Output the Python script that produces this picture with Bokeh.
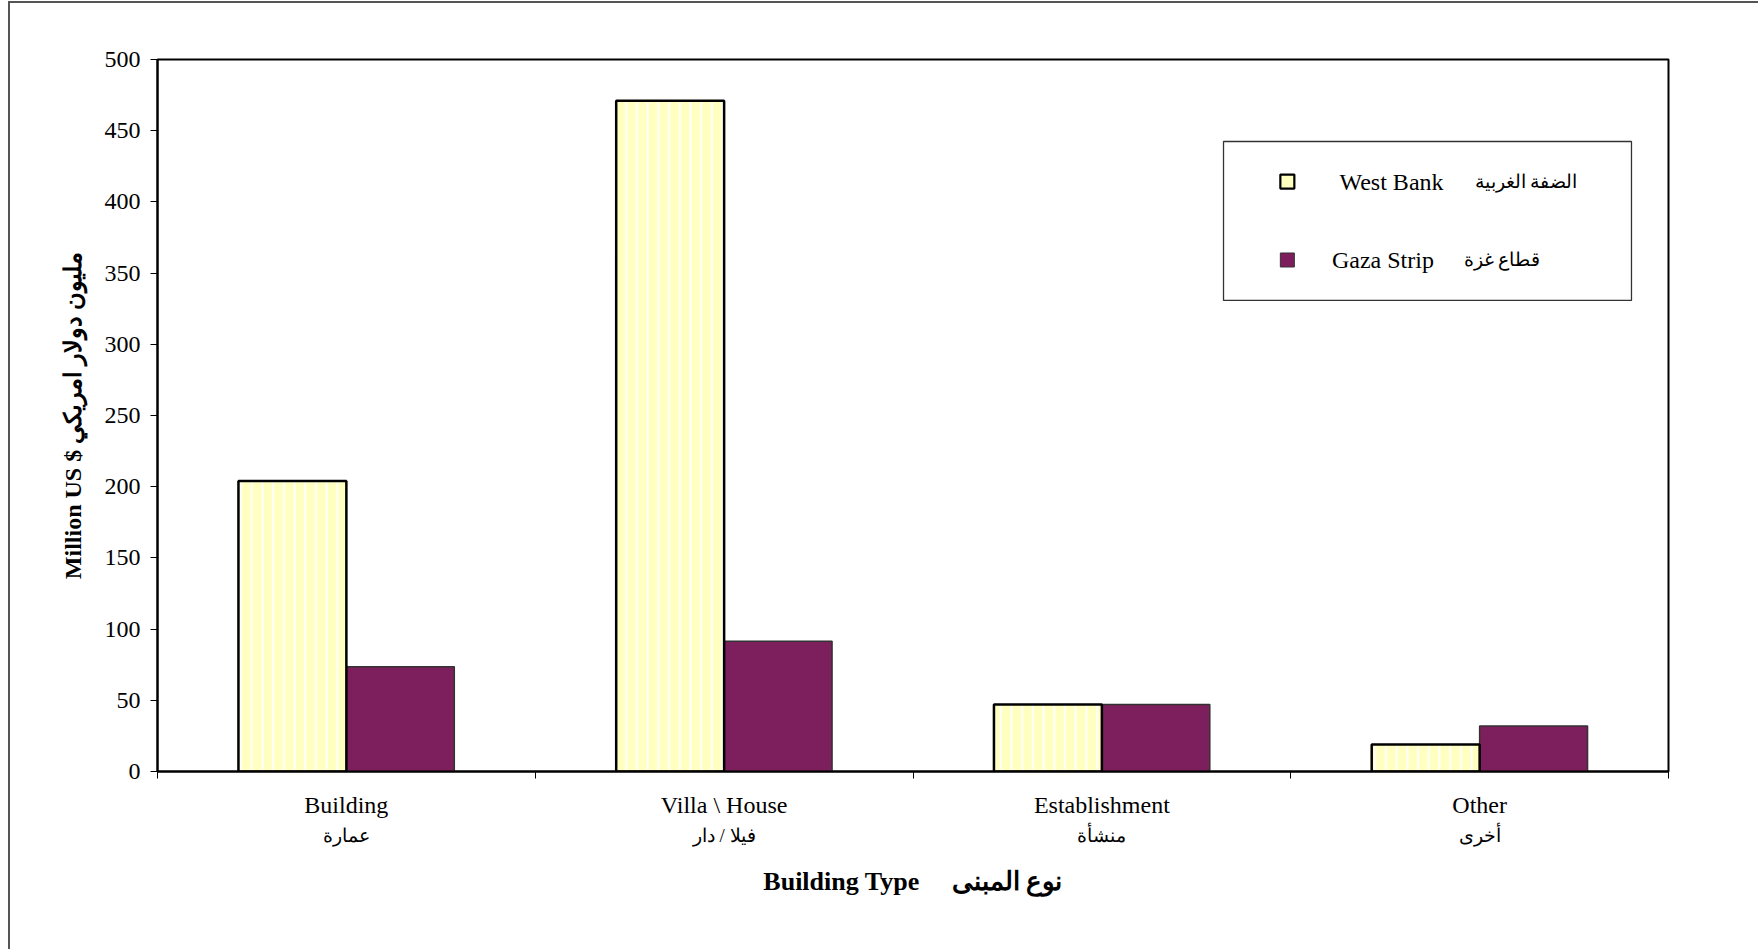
from bokeh.plotting import figure
from bokeh.models import Range1d, FixedTicker, ColumnDataSource, LinearAxis
from bokeh.core.properties import value
from bokeh.embed import file_html
from bokeh.resources import INLINE

# --- data -------------------------------------------------------------
categories_en = ["Building", "Villa \\ House", "Establishment", "Other"]
categories_ar = ["عمارة", "فيلا / دار", "منشأة", "أخرى"]
west_bank = [204, 471, 47, 19]
gaza_strip = [73.5, 91.5, 47, 32]
y_ticks = [0, 50, 100, 150, 200, 250, 300, 350, 400, 450, 500]

series_en = ["West Bank", "Gaza Strip"]
series_ar = ["الضفة الغربية", "قطاع غزة"]

# --- styling ----------------------------------------------------------
SERIF = "Liberation Serif"
WB_FILL = "#FFFFC0"
GZ_FILL = "#7E1F5D"
BAR_W = 1 / 3.5          # Excel-style 150% gap width
NB = "\u00a0"            # non-breaking space, keeps wide gaps in SVG text

n = len(categories_en)
centers = [i + 0.5 for i in range(n)]
bounds = [i for i in range(n + 1)]
wb_x = [c - BAR_W / 2 for c in centers]
gz_x = [c + BAR_W / 2 for c in centers]

p = figure(width=1750, height=948,
           x_range=Range1d(0, n), y_range=Range1d(0, 500),
           output_backend="svg", toolbar_location=None,
           min_border_left=147, min_border_right=92,
           min_border_top=56, min_border_bottom=180)
p.margin = (3, 0, 0, 10)
p.styles = {"box-shadow": "-2px -2px 0 0 #555"}

p.background_fill_color = "white"
p.border_fill_color = "white"
p.outline_line_color = "black"
p.outline_line_width = 2
p.xgrid.visible = False
p.ygrid.visible = False

# y axis
ya = p.yaxis[0]
ya.ticker = FixedTicker(ticks=y_ticks)
ya.minor_tick_line_color = None
ya.major_tick_in = 0
ya.major_tick_out = 7
ya.major_tick_line_color = "black"
ya.axis_line_color = "black"
ya.axis_line_width = 2
ya.major_label_text_font = SERIF
ya.major_label_text_font_size = "24px"
ya.major_label_text_color = "black"
ya.major_label_standoff = 10
ya.axis_label = "Million US $ مليون دولار امريكي"
ya.axis_label_text_font = SERIF
ya.axis_label_text_font_style = "bold"
ya.axis_label_text_font_size = "24px"
ya.axis_label_text_color = "black"
ya.axis_label_standoff = 16

# x axis, first row: English names at category centres,
# tick marks at category boundaries
xa = p.xaxis[0]
xa.ticker = FixedTicker(ticks=centers, minor_ticks=bounds)
xa.major_tick_line_color = None
xa.major_tick_in = 0
xa.major_tick_out = 0
xa.minor_tick_line_color = "black"
xa.minor_tick_in = 0
xa.minor_tick_out = 7
xa.axis_line_color = "black"
xa.axis_line_width = 2
xa.major_label_overrides = {c: en for c, en in zip(centers, categories_en)}
xa.major_label_text_font = SERIF
xa.major_label_text_font_size = "24px"
xa.major_label_text_color = "black"
xa.major_label_standoff = 13

# x axis, second row: Arabic names and the axis title
xa2 = LinearAxis(ticker=FixedTicker(ticks=centers, minor_ticks=[]))
xa2.axis_line_color = None
xa2.major_tick_line_color = None
xa2.minor_tick_line_color = None
xa2.major_tick_in = 0
xa2.major_tick_out = 0
xa2.major_label_overrides = {c: ar for c, ar in zip(centers, categories_ar)}
xa2.major_label_text_font = SERIF
xa2.major_label_text_font_size = "19px"
xa2.major_label_text_color = "black"
xa2.major_label_standoff = 4
xa2.axis_label = "Building Type" + NB * 5 + "نوع المبنى"
xa2.axis_label_text_font = SERIF
xa2.axis_label_text_font_style = "bold"
xa2.axis_label_text_font_size = "26px"
xa2.axis_label_text_color = "black"
xa2.axis_label_standoff = 18
p.add_layout(xa2, "below")

# bars
p.vbar(x=gz_x, top=gaza_strip, bottom=0, width=BAR_W,
       fill_color=GZ_FILL, line_color="#333333", line_width=1.5)
p.vbar(x=wb_x, top=west_bank, bottom=0, width=BAR_W,
       fill_color=WB_FILL, line_color="black", line_width=2.5,
       hatch_pattern="vertical_line", hatch_color="white",
       hatch_scale=10.7, hatch_weight=2)

# legend box (drawn in data space, upper right)
LEG_L, LEG_R, LEG_T, LEG_B = 2.822, 3.902, 442.4, 330.8
LEG_SYM_X = 2.991
LEG_ROWS = [414.3, 359.2]
p.quad(left=[LEG_L], right=[LEG_R], top=[LEG_T], bottom=[LEG_B],
       fill_color="white", line_color="#333333", line_width=1.3)
sym = ColumnDataSource(dict(x=[LEG_SYM_X, LEG_SYM_X], y=LEG_ROWS,
                            fill=[WB_FILL, GZ_FILL], line=["black", "#333333"],
                            lw=[2.2, 1.0]))
p.scatter(x="x", y="y", source=sym, marker="square", size=14,
          fill_color="fill", line_color="line", line_width="lw")
p.text(x=[3.129, 3.109], y=LEG_ROWS, text=series_en,
       text_font=value(SERIF), text_font_size="24px", text_color="black",
       text_align="left", text_baseline="middle")
p.text(x=[3.759, 3.661], y=LEG_ROWS, text=series_ar,
       text_font=value(SERIF), text_font_size="19px", text_color="black",
       text_align="right", text_baseline="middle")

open("out.html", "w").write(file_html(p, INLINE))
